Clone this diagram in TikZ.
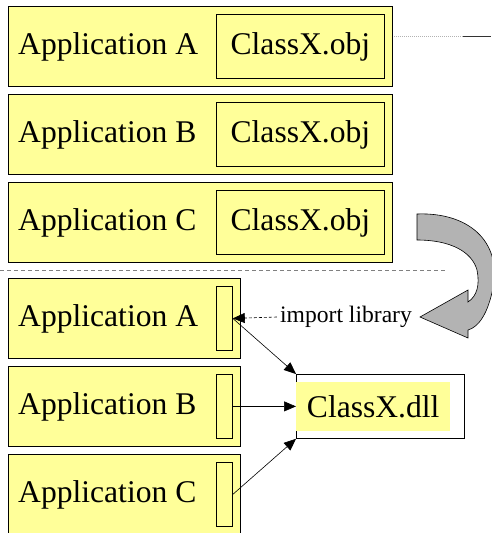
\documentclass[tikz,border=0pt]{standalone}
\usepackage{fontspec}
\setmainfont{Liberation Serif}
\usetikzlibrary{arrows.meta}
\definecolor{appyellow}{HTML}{FFFF99}
\definecolor{bigarrow}{HTML}{B3B3B3}
\tikzset{
  appbox/.style={draw=black, line width=1pt, fill=appyellow, anchor=north west, inner sep=0pt},
  objbox/.style={draw=black, line width=0.8pt, anchor=north west, inner sep=0pt},
  apptext/.style={anchor=west, inner sep=10pt, font=\fontsize{31.6}{36}\selectfont},
  objtext/.style={inner sep=0pt, font=\fontsize{31.6}{36}\selectfont},
  smalltext/.style={inner sep=3pt, font=\fontsize{23.6}{28}\selectfont},
  link/.style={line width=0.6pt, -{Triangle[length=12pt,width=10pt]}},
}
\begin{document}
\begin{tikzpicture}[x=1pt,y=-1pt]
\useasboundingbox (0,0) rectangle (491,533);
% separator
\draw[gray, line width=0.7pt, dash pattern=on 4pt off 3pt] (0,270) -- (445,270);
% top-right line
\coordinate (tl1) at (392,36);
\coordinate (tl2) at (463,36);
\coordinate (tl3) at (491,36);
\draw[gray!60, line width=0.7pt, dash pattern=on 1pt off 1pt] (tl1) -- (tl2);
\draw[black!80, line width=0.8pt] (tl2) -- (tl3);
% upper application boxes
\foreach \n/\y in {A/6, B/94, C/182} {
  \node[appbox, minimum width=384, minimum height=80] (up\n) at (8,\y) {};
  \node[objbox, minimum width=168, minimum height=64] (obj\n) at (216,\y+8) {};
  \node[objtext] at (obj\n.center) {ClassX.obj};
  \node[apptext] at (8,\y+41) {Application \n};
}
% lower application boxes
\foreach \n/\y in {A/278, B/366, C/454} {
  \node[appbox, minimum width=232, minimum height=80] (low\n) at (8,\y) {};
  \node[objbox, minimum width=16, minimum height=64] (small\n) at (216,\y+8) {};
  \node[apptext] at (8,\y+41) {Application \n};
}
% dll
\node[draw=black, line width=0.8pt, fill=white, anchor=north west, inner sep=0pt,
      minimum width=168, minimum height=64] (dll) at (296,374) {};
\node[fill=appyellow, anchor=north west, inner sep=0pt, minimum width=154, minimum height=49] (dllin) at (296,382) {};
\node[objtext] at (dllin.center) {ClassX.dll};
% import library
\node[smalltext] (lib) at (346,317) {import library};
\draw[line width=0.6pt, dash pattern=on 3pt off 2pt, -{Triangle[length=12pt,width=10pt]}] (lib.west) -- (smallA.east);
% links
\draw[link] (smallA.east) -- (dll.north west);
\draw[link] (smallB.east) -- (dll.west);
\draw[link] (smallC.east) -- (dll.south west);
% big curved arrow
\draw[fill=bigarrow, draw=black, line width=0.6pt]
  (417,214) .. controls (467,212) and (502,240) .. (493,288)
  .. controls (488,313) and (479,327) .. (468,330)
  -- (468,338) -- (420,317) -- (468,290) -- (468,302)
  .. controls (477,296) and (480,285) .. (477,270)
  .. controls (472,252) and (451,240) .. (417,240) -- cycle;
\end{tikzpicture}
\end{document}
